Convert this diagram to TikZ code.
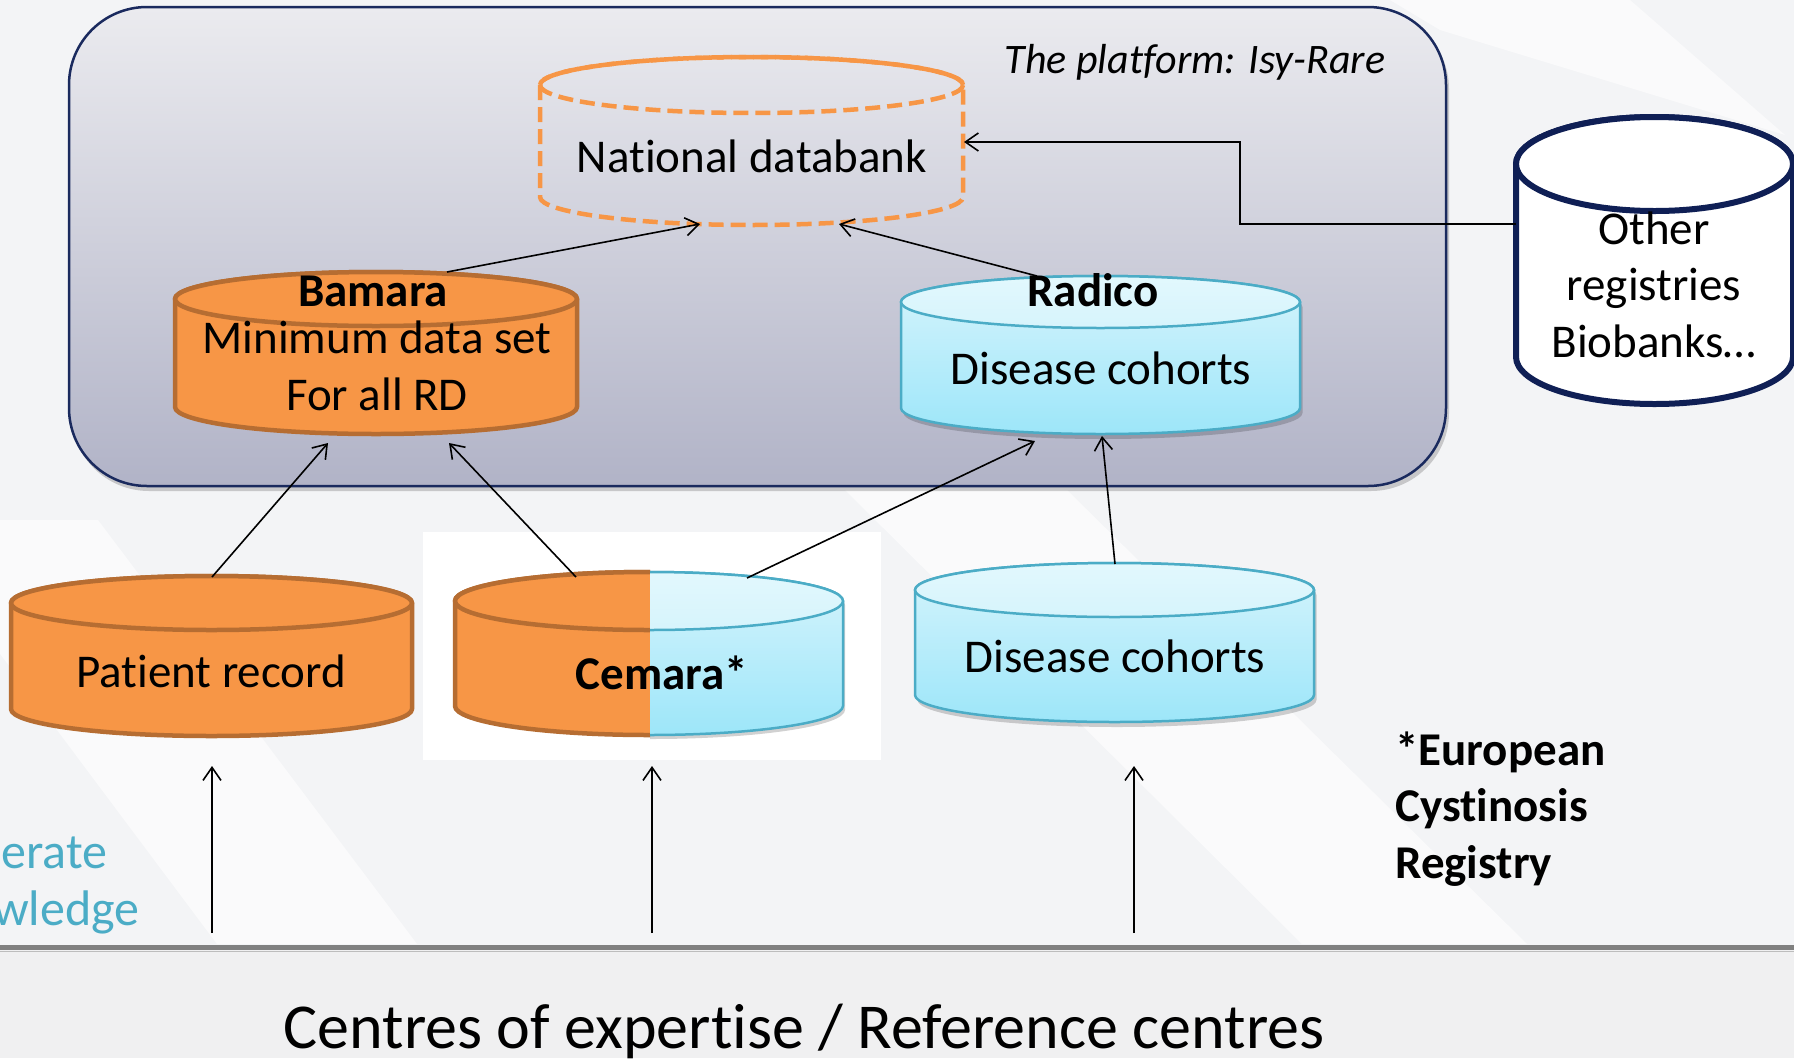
\documentclass[tikz,border=0pt]{standalone}
\usepackage{fontspec}
\setmainfont{Carlito}[Ligatures=NoCommon]
\usetikzlibrary{arrows.meta,calc}
\definecolor{bg}{HTML}{F3F4F6}
\definecolor{bgbot}{HTML}{F0F0F1}
\definecolor{orf}{HTML}{F79646}
\definecolor{ord}{HTML}{B66D32}
\definecolor{cyd}{HTML}{4BACC6}
\definecolor{cytop}{HTML}{D6F4FC}
\definecolor{cybot}{HTML}{9DE6F9}
\definecolor{cyface}{HTML}{E2F8FD}
\definecolor{navy}{HTML}{0F1F55}
\definecolor{plattop}{HTML}{EBEBEF}
\definecolor{platbot}{HTML}{B1B3C7}
\definecolor{platline}{HTML}{1A2A5E}
\definecolor{kb}{HTML}{4BACC6}
\definecolor{rule}{HTML}{808080}
\definecolor{rulelt}{HTML}{BDBDBD}
% #1 options, #2 cx, #3 top centre y, #4 bottom centre y, #5 rx, #6 ry
\newcommand\cylbody[6]{%
  \path[#1] (#2-#5,#3) -- (#2-#5,#4) arc[start angle=180,end angle=0,x radius=#5,y radius=#6]
     -- (#2+#5,#3) arc[start angle=0,end angle=-180,x radius=#5,y radius=#6] -- cycle;}
\newcommand\cyltop[6]{%
  \path[#1] (#2,#3) ellipse[x radius=#5,y radius=#6];}
\begin{document}
\begin{tikzpicture}[x=1pt,y=-1pt,
  lbl/.style={inner sep=0pt, anchor=base, font=\fontsize{47}{56}\selectfont},
  lblb/.style={inner sep=0pt, anchor=base, font=\fontsize{47}{56}\selectfont\bfseries},
  arr/.style={line width=1.6pt, -{Straight Barb[length=13pt,width=18pt]}},
  orbody/.style={fill=orf, draw=ord, line width=4.5pt, line join=round},
  cybody/.style={top color=cytop, bottom color=cybot, draw=cyd, line width=2.5pt, line join=round},
  cyface/.style={top color=cyface, bottom color=cytop, draw=cyd, line width=2.5pt},
  shadow/.style={fill=black, opacity=0.18},
  stripe/.style={fill=white, opacity=0.6}
]
\clip (0,0) rectangle (1794,1058);
% background
\fill[bg] (0,0) rectangle (1794,1058);
\fill[stripe] (1390,0) -- (1630,0) -- (1785,135) -- (1440,30) -- cycle;
\fill[stripe] (-100,520) -- (98,520) -- (417,944) -- (217,944) -- cycle;
\fill[stripe] (845,490) -- (1067,490) -- (1527,944) -- (1302,944) -- cycle;
\fill[bgbot] (0,950) rectangle (1794,1058);
\draw[rule, line width=5pt] (0,947.5) -- (1794,947.5);
\draw[rulelt, line width=1.5pt] (0,951.5) -- (1794,951.5);

% platform
\fill[shadow, rounded corners=78pt] (71,11) rectangle (1449,491);
\path[draw=platline, line width=2.5pt, top color=plattop, bottom color=platbot, rounded corners=78pt]
  (69,7) rectangle (1446,486);
\node[lbl, font=\fontsize{42}{50}\selectfont\itshape] (t-plat) at (1195,73) {The platform: Isy-Rare};

% National databank (dashed)
\cylbody{draw=orf, line width=4.5pt, dash pattern=on 15pt off 7pt}{751.5}{85}{197}{211.5}{28}
\cyltop{draw=orf, line width=4.5pt, dash pattern=on 15pt off 7pt}{751.5}{85}{197}{211.5}{28}
\node[lbl] (t-ndb) at (752,172) {National databank};

% Bamara
\cylbody{orbody}{376}{299}{407}{201}{27}
\cyltop{orbody}{376}{299}{407}{201}{27}
\node[lblb] (t-bam1) at (373,306) {Bamara};
\node[lbl] (t-bam2) at (377,353) {Minimum data set};
\node[lbl] (t-bam3) at (377,410) {For all RD};

% Radico
\cylbody{shadow}{1103}{307}{413}{199.5}{26}
\cylbody{cybody}{1100.5}{302}{408}{199.5}{26}
\cyltop{cyface}{1100.5}{302}{408}{199.5}{26}
\node[lblb] (t-rad1) at (1093,306) {Radico};
\node[lbl] (t-rad2) at (1101,384) {Disease cohorts};

% Other registries
\cylbody{fill=white, draw=navy, line width=6pt, line join=round}{1654.5}{164}{357}{138.5}{47}
\cyltop{fill=white, draw=navy, line width=6pt}{1654.5}{164}{357}{138.5}{47}
\node[lbl] (t-oth1) at (1654,244) {Other};
\node[lbl] (t-oth2) at (1654,300) {registries};
\node[lbl] (t-oth3) at (1654,357) {Biobanks…};

% Patient record
\cylbody{orbody}{211.5}{603}{709}{200.5}{27}
\cyltop{orbody}{211.5}{603}{709}{200.5}{27}
\node[lbl] (t-pat) at (211,687) {Patient record};

% Cemara (half orange, half cyan)
\fill[white] (423,532) rectangle (881,760);
\begin{scope}
  \clip (380,540) rectangle (650,760);
  \cylbody{orbody}{649}{601}{706}{194}{29}
  \cyltop{orbody}{649}{601}{706}{194}{29}
\end{scope}
\begin{scope}
  \clip (650,540) rectangle (900,760);
  \cylbody{shadow}{651}{605}{710}{194}{29}
  \cylbody{cybody}{649}{601}{706}{194}{29}
  \cyltop{cyface}{649}{601}{706}{194}{29}
\end{scope}
\node[lblb] (t-cem) at (662,689) {Cemara*};

% Disease cohorts (bottom)
\cylbody{shadow}{1117}{595}{700}{199.5}{27}
\cylbody{cybody}{1114.5}{590}{695}{199.5}{27}
\cyltop{cyface}{1114.5}{590}{695}{199.5}{27}
\node[lbl] (t-dis) at (1115,672) {Disease cohorts};

% footnote
\node[lblb, anchor=base west] (t-eu1) at (1395,765) {*European};
\node[lblb, anchor=base west] (t-eu2) at (1395,821) {Cystinosis};
\node[lblb, anchor=base west] (t-eu3) at (1395,878) {Registry};

% cut-off side text
\node[lbl, anchor=base west, text=kb, font=\fontsize{50}{56}\selectfont] (t-gen1) at (1,868) {erate};
\node[lbl, anchor=base west, text=kb, font=\fontsize{50}{56}\selectfont] (t-gen2) at (-7,925) {wledge};

% bottom title
\node[lbl, font=\fontsize{64}{72}\selectfont] (t-centres) at (804,1048) {Centres of expertise / Reference centres};

% connector anchors
\coordinate (ndb-b1) at (700,224);
\coordinate (ndb-b2) at (839,224);
\coordinate (ndb-r) at (964,142);
\coordinate (bam-t) at (447,272);
\coordinate (bam-b1) at (328,443);
\coordinate (bam-b2) at (449,443);
\coordinate (rad-t) at (1037,276);
\coordinate (rad-b1) at (1035,441);
\coordinate (rad-b2) at (1102,436);
\coordinate (oth-l) at (1516,224);
\coordinate (elbow) at (1240,224);
\coordinate (pat-t) at (212,577);
\coordinate (cem-t1) at (576,577);
\coordinate (cem-t2) at (747,578);
\coordinate (dis-t) at (1115,564);
\coordinate (base1) at (212,933);
\coordinate (up1) at (212,766);
\coordinate (base2) at (652,933);
\coordinate (up2) at (652,766);
\coordinate (base3) at (1134,933);
\coordinate (up3) at (1134,766);

% connectors
\draw[arr] (bam-t) -- (ndb-b1);
\draw[arr] (rad-t) -- (ndb-b2);
\draw[arr] (oth-l) -- (elbow) |- (ndb-r);
\draw[arr] (pat-t) -- (bam-b1);
\draw[arr] (cem-t1) -- (bam-b2);
\draw[arr] (cem-t2) -- (rad-b1);
\draw[arr] (dis-t) -- (rad-b2);
\draw[arr] (base1) -- (up1);
\draw[arr] (base2) -- (up2);
\draw[arr] (base3) -- (up3);
\end{tikzpicture}
\end{document}
